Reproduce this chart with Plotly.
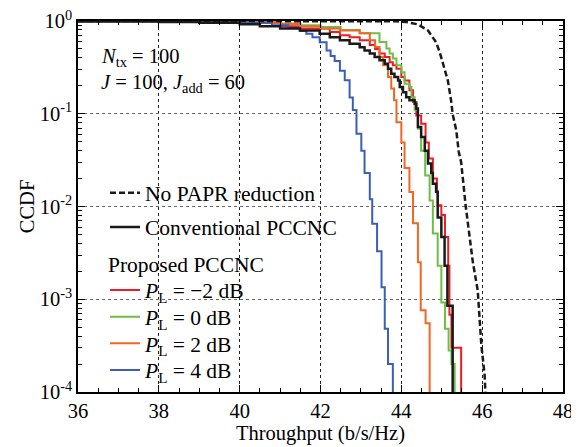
import plotly.graph_objects as go

# ---------------- data ----------------
nopapr_x = [36.0, 43.5, 43.88, 44.12, 44.41, 44.66, 44.86, 44.95, 45.07, 45.15, 45.23, 45.27, 45.36,
            45.42, 45.48, 45.52, 45.56, 45.59, 45.69, 45.77, 45.89, 45.93, 45.98, 46.06, 46.08]
nopapr_y = [1.0, 1.0, 0.995, 0.975, 0.92, 0.79, 0.59, 0.46, 0.31, 0.229, 0.14, 0.099, 0.066,
            0.039, 0.030, 0.0183, 0.0139, 0.0103, 0.0049, 0.0025, 0.00125, 0.00068, 0.00032, 0.000154, 0.0001]

conv_x = [36.0, 38.0, 39.0, 40.0, 40.5, 41.0, 41.49, 41.98, 42.23, 42.48, 42.72, 42.97, 43.09, 43.22,
          43.34, 43.46, 43.59, 43.67, 43.75, 43.83, 43.92, 43.96, 44.04, 44.12, 44.20, 44.33, 44.37,
          44.41, 44.49, 44.58, 44.66, 44.74, 44.78, 44.86, 44.90, 44.99, 45.07, 45.14, 45.27]
conv_y = [0.99, 0.975, 0.955, 0.92, 0.88, 0.83, 0.79, 0.73, 0.67, 0.62, 0.57, 0.52, 0.48, 0.445,
          0.41, 0.377, 0.347, 0.306, 0.27, 0.249, 0.229, 0.194, 0.171, 0.151, 0.14, 0.128, 0.114,
          0.072, 0.056, 0.040, 0.029, 0.023, 0.0176, 0.0144, 0.0076, 0.0047, 0.0023, 0.00085, 0.0001]

pm2_x = [36.0, 38.5, 40.0, 41.0, 41.49, 42.23, 42.48, 42.72, 42.97, 43.22, 43.35, 43.46, 43.59, 43.71,
         43.79, 43.88, 44.0, 44.08, 44.2, 44.29, 44.37, 44.49, 44.60, 44.68, 44.78, 44.88, 44.90,
         44.99, 45.08, 45.16, 45.19, 45.24, 45.48]
pm2_y = [0.998, 0.99, 0.96, 0.88, 0.83, 0.76, 0.70, 0.67, 0.62, 0.55, 0.50, 0.445, 0.41, 0.36,
         0.333, 0.306, 0.249, 0.229, 0.179, 0.134, 0.096, 0.078, 0.049, 0.033, 0.020, 0.0143, 0.0103,
         0.0081, 0.0047, 0.0023, 0.00068, 0.0003, 0.0001]

p0_x = [36.0, 38.5, 40.0, 41.0, 41.5, 42.0, 42.5, 42.97, 43.46, 43.63, 43.71, 43.79, 43.88, 44.0,
        44.08, 44.20, 44.25, 44.33, 44.41, 44.49, 44.59, 44.70, 44.78, 44.90, 44.99, 45.08, 45.17,
        45.24, 45.32]
p0_y = [0.998, 0.995, 0.98, 0.94, 0.90, 0.86, 0.80, 0.736, 0.593, 0.504, 0.445, 0.393, 0.333, 0.28,
        0.211, 0.194, 0.151, 0.109, 0.069, 0.040, 0.0216, 0.0116, 0.0051, 0.0023, 0.00092, 0.00048,
        0.00028, 0.0002, 0.0001]

p2_x = [36.0, 38.5, 40.0, 41.0, 41.5, 42.0, 42.48, 42.97, 43.22, 43.35, 43.46, 43.55, 43.67, 43.75,
        43.82, 43.88, 44.0, 44.08, 44.20, 44.29, 44.41, 44.48, 44.60, 44.70]
p2_y = [0.998, 0.99, 0.97, 0.93, 0.87, 0.83, 0.79, 0.736, 0.62, 0.524, 0.409, 0.333, 0.249, 0.187,
        0.14, 0.081, 0.049, 0.026, 0.0143, 0.0066, 0.0025, 0.00076, 0.00055, 0.0001]

p4_x = [36.0, 38.0, 39.5, 40.3, 40.8, 41.2, 41.5, 41.65, 41.8, 41.98, 42.15, 42.25, 42.35, 42.48,
        42.6, 42.72, 42.8, 42.89, 43.01, 43.09, 43.22, 43.28, 43.40, 43.51, 43.59, 43.67, 43.79]
p4_y = [0.995, 0.99, 0.98, 0.96, 0.90, 0.84, 0.78, 0.73, 0.67, 0.59, 0.48, 0.42, 0.37, 0.29,
        0.23, 0.15, 0.11, 0.061, 0.040, 0.023, 0.012, 0.0065, 0.0033, 0.00135, 0.00048, 0.0002, 0.0001]

x_ticks = [36, 38, 40, 42, 44, 46, 48]
y_ticks = [1e-4, 1e-3, 1e-2, 1e-1, 1]
y_ticktext = ["10<sup>-4</sup>", "10<sup>-3</sup>", "10<sup>-2</sup>", "10<sup>-1</sup>", "10<sup>0</sup>"]

names = {
    "nopapr": "No PAPR reduction",
    "conv": "Conventional PCCNC",
    "pm2": "<i>P</i><sub>L</sub> = −2 dB",
    "p0": "<i>P</i><sub>L</sub> = 0 dB",
    "p2": "<i>P</i><sub>L</sub> = 2 dB",
    "p4": "<i>P</i><sub>L</sub> = 4 dB",
}

FONT = "Liberation Serif"
FS = 20.5
LFS = 21.5

fig = go.Figure()

def add(x, y, name, color, width, legend, dash=None, shape="hv"):
    fig.add_trace(go.Scatter(
        x=x, y=y, mode="lines", name=name, legend=legend, showlegend=True,
        line=dict(color=color, width=width, shape=shape, dash=dash),
    ))

add(pm2_x, pm2_y, names["pm2"], "#EE1D23", 2, "legend3")
add(p0_x, p0_y, names["p0"], "#6DBE45", 2, "legend4")
add(p2_x, p2_y, names["p2"], "#F26522", 2, "legend5")
add(p4_x, p4_y, names["p4"], "#3A5FB5", 2, "legend6")
add(conv_x, conv_y, names["conv"], "#1a1a1a", 2.5, "legend2")
add(nopapr_x, nopapr_y, names["nopapr"], "#1a1a1a", 2.5, "legend", dash="6px,3px", shape="linear")

# geometry: page has an 8px body margin, so the figure is sized to fit the 579x447 window
OFF = 8
W, H = 579 - OFF, 447 - OFF
L, R, T, B = 78 - OFF, 16, 21 - OFF, 55
pw, ph = W - L - R, H - T - B

def px2x(px):
    return (px - OFF - L) / pw

def py2y(py):
    return (H - B - (py - OFF)) / ph

def leg(py):
    return dict(x=px2x(105), y=py2y(py), xanchor="left", yanchor="middle",
                bgcolor="rgba(0,0,0,0)", font=dict(family=FONT, size=LFS, color="black"),
                itemwidth=30, visible=True)

minor_y = [m * 10 ** e for e in range(-4, 0) for m in range(2, 10)]

fig.update_layout(
    width=W, height=H,
    margin=dict(l=L, r=R, t=T, b=B, autoexpand=False),
    plot_bgcolor="white", paper_bgcolor="white",
    font=dict(family=FONT, size=FS, color="black"),
    showlegend=True,
    legend=leg(192.7),
    legend2=leg(227),
    legend3=leg(290),
    legend4=leg(316.7),
    legend5=leg(343.3),
    legend6=leg(370),
    xaxis=dict(
        range=[36, 48], tickvals=x_ticks, ticks="inside", ticklen=7, tickwidth=1,
        tickcolor="black", showline=True, linecolor="black", linewidth=1.5, mirror="ticks",
        showgrid=True, gridcolor="#222", griddash="3px,3px", gridwidth=1,
        minor=dict(ticks="inside", ticklen=4, dtick=0.5, tick0=36, tickcolor="black", showgrid=False),
        title=dict(text="Throughput (b/s/Hz)", font=dict(family=FONT, size=FS), standoff=2),
        tickfont=dict(family=FONT, size=FS), zeroline=False, automargin=False,
        ticklabeloverflow="allow",
    ),
    yaxis=dict(
        type="log", range=[-4, 0], tickvals=y_ticks, ticktext=y_ticktext, ticks="inside",
        ticklen=7, tickwidth=1, tickcolor="black", showline=True, linecolor="black", linewidth=1.5,
        mirror="ticks", showgrid=True, gridcolor="#666", griddash="3px,3px", gridwidth=1,
        minor=dict(ticks="inside", ticklen=4, tickvals=minor_y, tickcolor="black", showgrid=False),
        title=dict(text="CCDF", font=dict(family=FONT, size=FS), standoff=0),
        tickfont=dict(family=FONT, size=FS), zeroline=False, automargin=False,
        ticklabeloverflow="allow",
    ),
    annotations=[
        dict(text="Proposed PCCNC", x=px2x(106), y=py2y(265), xref="paper", yref="paper",
             xanchor="left", yanchor="middle", showarrow=False, font=dict(family=FONT, size=LFS)),
        dict(text="<i>N</i><sub>tx</sub> = 100", x=px2x(99), y=py2y(58), xref="paper", yref="paper",
             xanchor="left", yanchor="middle", showarrow=False, font=dict(family=FONT, size=FS)),
        dict(text="<i>J</i> = 100, <i>J</i><sub>add</sub> = 60", x=px2x(99), y=py2y(84),
             xref="paper", yref="paper", xanchor="left", yanchor="middle", showarrow=False,
             font=dict(family=FONT, size=FS)),
    ],
)

fig.write_html("out.html")
